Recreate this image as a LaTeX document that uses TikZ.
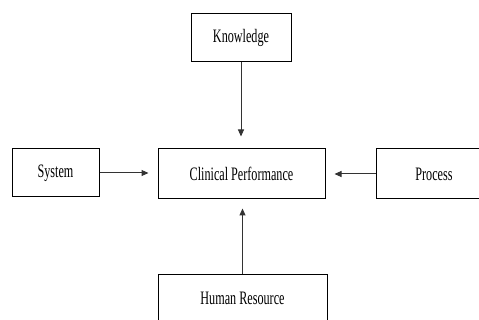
\documentclass[tikz,border=0pt]{standalone}
\usepackage{fontspec}
\newfontfamily\boxfont[FakeStretch=0.64]{Liberation Serif}
\usepackage{tikz}
\usetikzlibrary{arrows, arrows.meta}
\usetikzlibrary{positioning}
\usetikzlibrary{calc}

\begin{document}
\begin{tikzpicture}[x=1pt, y=-1pt,
		every node/.style={rectangle, draw, line width=1pt, inner sep=0pt, font=\boxfont\fontsize{19}{19}\selectfont},
		flow/.style={-{Triangle[length=7pt, width=6pt]}, draw=black!80, line width=1pt, shorten >=9pt}]
			\useasboundingbox (0,0) rectangle (479,320);
			\clip (0,0) rectangle (479,320);

			\node[minimum width=167pt, minimum height=50pt](clinical) at (241.5,174){Clinical Performance};
			\node[minimum width=100pt, minimum height=48pt](knowledge) at (241,38){Knowledge};
			\node[minimum width=87pt, minimum height=48pt](system) at (55.5,173){System};
			\node[minimum width=116pt, minimum height=50pt](process) at (434,174){Process};
			\node[minimum width=169pt, minimum height=46pt](human) at (242.5,298){Human Resource};

			\draw[flow, shorten >=12pt] (knowledge.south) -- (knowledge.south |- clinical.north);
			\draw[flow] (system.east) -- (system.east -| clinical.west);
			\draw[flow] (process.west) -- (process.west -| clinical.east);
			\draw[flow] (human.north) -- (human.north |- clinical.south);
		\end{tikzpicture}
\end{document}
